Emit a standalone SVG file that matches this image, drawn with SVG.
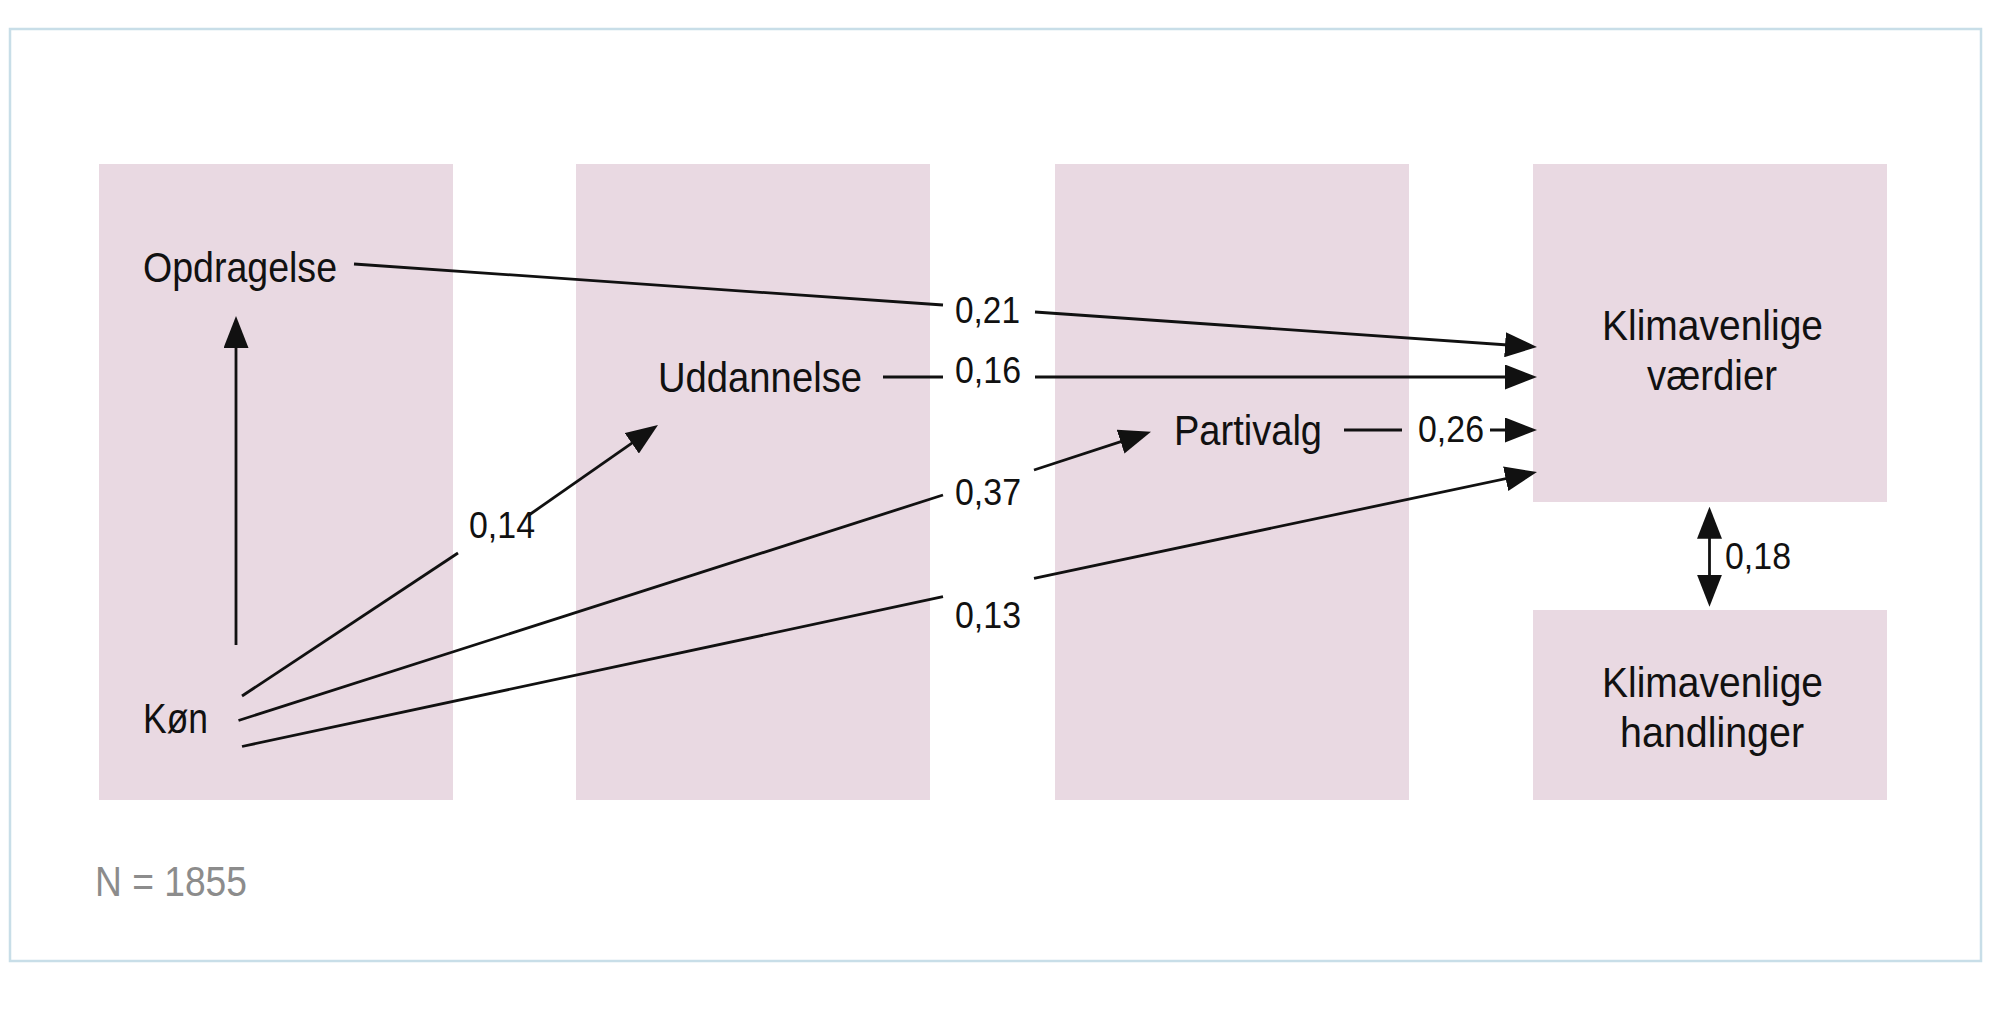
<svg xmlns="http://www.w3.org/2000/svg" width="2000" height="1036" viewBox="0 0 2000 1036">
<style>
.col{fill:#e9d9e2}
.node{font-family:"Liberation Sans",Arial,sans-serif;font-size:43px;fill:#111111}
.lbl{font-family:"Liberation Sans",Arial,sans-serif;font-size:37px;fill:#111111}
.note{font-family:"Liberation Sans",Arial,sans-serif;font-size:43px;fill:#8c8c8c}
.ln{stroke:#111111;stroke-width:2.8;fill:none}
</style>
<defs>
<marker id="ah" viewBox="0 0 32 25" refX="22" refY="12.5" markerWidth="32" markerHeight="25" markerUnits="userSpaceOnUse" orient="auto-start-reverse">
<path d="M0,0 L32,12.5 L0,25 Z" fill="#111"/>
</marker>
</defs>
<rect x="0" y="0" width="2000" height="1036" fill="#ffffff"/>
<rect id="frame" x="10" y="29" width="1971" height="932" fill="#ffffff" stroke="#c8dee8" stroke-width="2.5"/>
<g id="columns">
<rect class="col" x="99" y="164" width="354" height="636"/>
<rect class="col" x="576" y="164" width="354" height="636"/>
<rect class="col" x="1055" y="164" width="354" height="636"/>
</g>
<g id="node-vaerdier">
<rect class="col" x="1533" y="164" width="354" height="338"/>
<text class="node" x="1602" y="340" textLength="221" lengthAdjust="spacingAndGlyphs">Klimavenlige</text>
<text class="node" x="1647" y="390" textLength="130" lengthAdjust="spacingAndGlyphs">værdier</text>
</g>
<g id="node-handlinger">
<rect class="col" x="1533" y="610" width="354" height="190"/>
<text class="node" x="1602" y="697" textLength="221" lengthAdjust="spacingAndGlyphs">Klimavenlige</text>
<text class="node" x="1620" y="747" textLength="184" lengthAdjust="spacingAndGlyphs">handlinger</text>
</g>
<g id="node-opdragelse">
<text class="node" x="143" y="282" textLength="194" lengthAdjust="spacingAndGlyphs">Opdragelse</text>
</g>
<g id="node-kon">
<text class="node" x="143" y="733" textLength="65" lengthAdjust="spacingAndGlyphs">Køn</text>
</g>
<g id="node-uddannelse">
<text class="node" x="658" y="392" textLength="204" lengthAdjust="spacingAndGlyphs">Uddannelse</text>
</g>
<g id="node-partivalg">
<text class="node" x="1174" y="445" textLength="148" lengthAdjust="spacingAndGlyphs">Partivalg</text>
</g>
<g id="connectors">
<line class="ln" x1="236" y1="645" x2="236" y2="326" marker-end="url(#ah)"/>
<line class="ln" x1="354" y1="264" x2="943" y2="305"/>
<line class="ln" x1="1035" y1="312" x2="1527" y2="346.3" marker-end="url(#ah)"/>
<line class="ln" x1="883" y1="377" x2="943" y2="377"/>
<line class="ln" x1="1035" y1="377" x2="1527" y2="377" marker-end="url(#ah)"/>
<line class="ln" x1="1344" y1="430" x2="1402" y2="430"/>
<line class="ln" x1="1490" y1="430" x2="1527" y2="430" marker-end="url(#ah)"/>
<line class="ln" x1="242" y1="696" x2="458" y2="553"/>
<line class="ln" x1="529" y1="515" x2="649.8" y2="430.7" marker-end="url(#ah)"/>
<line class="ln" x1="238.5" y1="720.5" x2="943" y2="495"/>
<line class="ln" x1="1034" y1="470" x2="1141.5" y2="434.8" marker-end="url(#ah)"/>
<line class="ln" x1="242" y1="746.5" x2="943" y2="596.7"/>
<line class="ln" x1="1034" y1="578.3" x2="1527.2" y2="474.1" marker-end="url(#ah)"/>
<line class="ln" x1="1709.5" y1="516.7" x2="1709.5" y2="596.7" marker-start="url(#ah)" marker-end="url(#ah)"/>
</g>
<g id="labels">
<text class="lbl" x="955" y="323" textLength="65" lengthAdjust="spacingAndGlyphs">0,21</text>
<text class="lbl" x="955" y="383" textLength="66" lengthAdjust="spacingAndGlyphs">0,16</text>
<text class="lbl" x="955" y="505" textLength="66" lengthAdjust="spacingAndGlyphs">0,37</text>
<text class="lbl" x="955" y="628" textLength="66" lengthAdjust="spacingAndGlyphs">0,13</text>
<text class="lbl" x="1418" y="442" textLength="66" lengthAdjust="spacingAndGlyphs">0,26</text>
<text class="lbl" x="469" y="538" textLength="66" lengthAdjust="spacingAndGlyphs">0,14</text>
<text class="lbl" x="1725" y="569" textLength="66" lengthAdjust="spacingAndGlyphs">0,18</text>
</g>
<text id="note" class="note" x="95" y="896" textLength="152" lengthAdjust="spacingAndGlyphs">N = 1855</text>
</svg>
